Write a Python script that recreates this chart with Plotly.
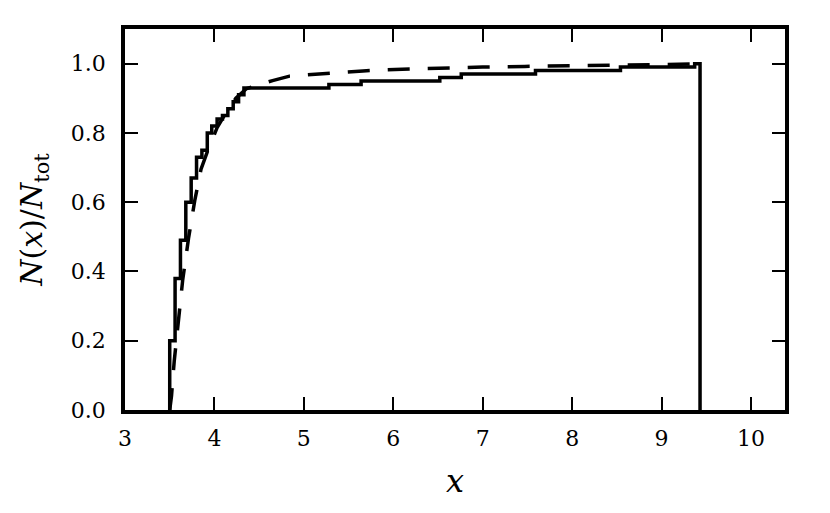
import plotly.graph_objects as go

# Cumulative histogram steps (left edge of each rise, cumulative fraction after rise)
step_x = [3.50, 3.56, 3.62, 3.68, 3.74, 3.80, 3.86, 3.92, 3.97, 4.03, 4.09, 4.15,
          4.21, 4.27, 4.33, 5.28, 5.64, 6.52, 6.76, 7.59, 8.54, 9.37]
step_y = [0.20, 0.38, 0.49, 0.60, 0.67, 0.73, 0.75, 0.80, 0.82, 0.84, 0.85, 0.87,
          0.89, 0.91, 0.93, 0.94, 0.95, 0.96, 0.97, 0.98, 0.99, 1.00]
x_end = 9.43

# Model curve (dashed)
model_x = [3.50, 3.52, 3.55, 3.60, 3.645, 3.71, 3.78, 3.85, 3.92, 4.03, 4.11, 4.24,
           4.36, 4.65, 4.84, 5.21, 5.66, 6.10, 6.54, 7.00, 7.47, 7.90, 8.36, 8.80,
           9.26, 9.43]
model_y = [0.00, 0.04, 0.14, 0.26, 0.375, 0.495, 0.605, 0.695, 0.745, 0.815, 0.85, 0.90,
           0.928, 0.951, 0.964, 0.971, 0.979, 0.984, 0.988, 0.990, 0.992, 0.993, 0.995,
           0.996, 0.998, 0.999]

x_ticks = [3, 4, 5, 6, 7, 8, 9, 10]
y_ticks = [0.0, 0.2, 0.4, 0.6, 0.8, 1.0]

# build the step outline: start at 0, rise at each edge, close down at the end
sx = [step_x[0]] + step_x + [x_end, x_end]
sy = [0.0] + step_y + [step_y[-1], 0.0]

fig = go.Figure()
fig.add_trace(go.Scatter(x=model_x, y=model_y, mode="lines",
                         line=dict(color="black", width=3.5, dash="22px,18px"),
                         hoverinfo="skip", showlegend=False))
fig.add_trace(go.Scatter(x=sx, y=sy, mode="lines",
                         line=dict(color="black", width=3.5, shape="hv"),
                         hoverinfo="skip", showlegend=False))

serif = "DejaVu Serif"
axis_common = dict(showline=True, linecolor="black", linewidth=3.5, mirror="allticks",
                   ticks="inside", ticklen=13, tickwidth=1.5, tickcolor="black",
                   showgrid=False, zeroline=False)

fig.update_xaxes(range=[3, 10.38], tickvals=x_ticks, ticktext=[str(v) for v in x_ticks],
                 ticklabelstandoff=6,
                 tickfont=dict(family=serif, size=22, color="black"),
                 title=dict(text="<i>x</i>", font=dict(family=serif, size=32, color="black"),
                            standoff=20),
                 **axis_common)
fig.update_yaxes(range=[0, 1.1], tickvals=y_ticks, ticktext=[f"{v:.1f}" for v in y_ticks],
                 ticklabelstandoff=11,
                 tickfont=dict(family=serif, size=22, color="black"),
                 title=dict(text="<i>N</i>(<i>x</i>)/<i>N</i><sub>tot</sub>",
                            font=dict(family=serif, size=30, color="black"), standoff=20),
                 **axis_common)

fig.update_layout(width=830, height=513, margin=dict(l=117, r=53, t=21, b=111),
                  font=dict(family=serif, color="black"),
                  paper_bgcolor="white", plot_bgcolor="white", showlegend=False)

fig.write_html("out.html")
